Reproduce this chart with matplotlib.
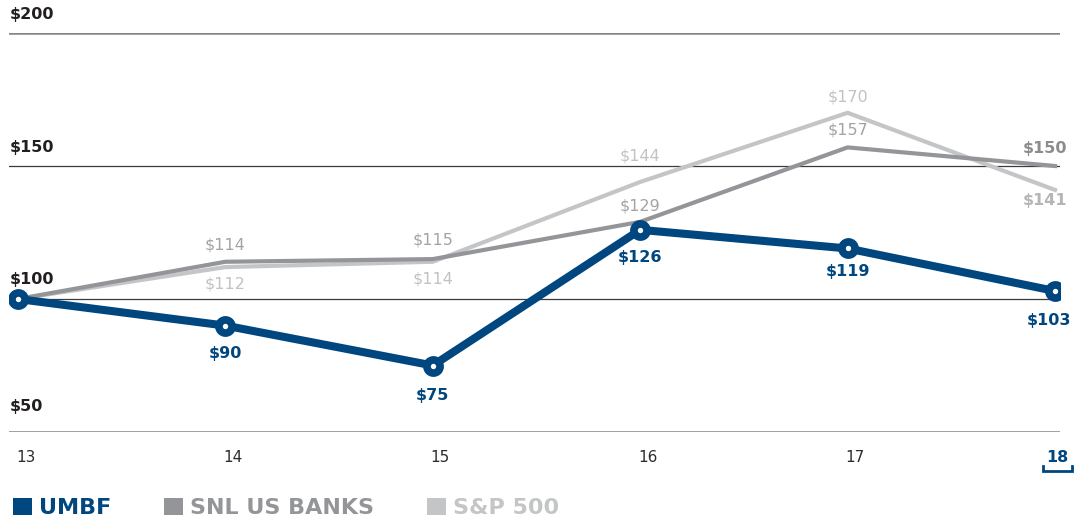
import matplotlib
matplotlib.use("Agg")
import matplotlib.pyplot as plt
from matplotlib.patches import Patch

# data
years = [13, 14, 15, 16, 17, 18]
year_labels = ["13", "14", "15", "16", "17", "18"]
umbf = [100, 90, 75, 126, 119, 103]
snl = [100, 114, 115, 129, 157, 150]
sp500 = [100, 112, 114, 144, 170, 141]
grid_values = [200, 150, 100, 50]
series_names = ["UMBF", "SNL US BANKS", "S&P 500"]

# label offsets in pixels (dx, dy), dy positive = down; None = no label
umbf_offsets = [None, (0, 28), (0, 30), (0, 28), (0, 23), (-6, 29)]
snl_offsets = [None, (0, -17), (0, -19), (0, -16), (0, -17), (-10, -18)]
sp_offsets = [None, (0, 17), (0, 17), (0, -26), (0, -16), (-10, 11)]
grid_label_gap = {200: 11, 150: 11, 100: 12, 50: 18}

blue = "#00467f"
gray = "#939598"
light = "#c4c5c7"
dark = "#231f20"

plt.rcParams["font.family"] = ["DejaVu Sans"]

fig = plt.figure(figsize=(10.75, 5.21), dpi=100)
ax = fig.add_axes([9 / 1075, 1 - 432 / 521, (1060 - 9) / 1075, (432 - 33) / 521])
ax.set_xlim(12.957, 18.024)
ax.set_ylim(50, 200)
ax.axis("off")

# grid lines and y labels
for v in grid_values:
    if v in (200, 50):
        ax.axhline(v, color="#858585", lw=1.8, zorder=1)
    else:
        ax.axhline(v, color="#3a3a3a", lw=0.9, zorder=1)
    ax.annotate("$%d" % v, xy=(12.957, v), xytext=(1, grid_label_gap[v]),
                textcoords="offset pixels", ha="left", va="bottom",
                fontsize=11.5, fontweight="bold", color=dark)

# lines
ax.plot(years, sp500, color=light, lw=3, zorder=2, solid_joinstyle="miter")
ax.plot(years, snl, color=gray, lw=3, zorder=3, solid_joinstyle="miter")
ax.plot(years, umbf, color=blue, lw=5.8, zorder=4, marker="o", markersize=9.5,
        markerfacecolor="white", markeredgecolor=blue, markeredgewidth=5.5)


def label_series(vals, offsets, color, last_color):
    for i, (x, v) in enumerate(zip(years, vals)):
        off = offsets[i]
        if off is None:
            continue
        last = i == len(vals) - 1
        ax.annotate("$%d" % v, xy=(x, v), xytext=(off[0], -off[1]),
                    textcoords="offset pixels", ha="center", va="center",
                    fontsize=11.5,
                    fontweight="bold" if last else "normal",
                    color=last_color if last else color, zorder=6)


label_series(snl, snl_offsets, "#a3a3a3", "#8c8c8c")
label_series(sp500, sp_offsets, "#c2c2c2", "#b5b5b5")
for i, (x, v) in enumerate(zip(years, umbf)):
    off = umbf_offsets[i]
    if off is None:
        continue
    ax.annotate("$%d" % v, xy=(x, v), xytext=(off[0], -off[1]),
                textcoords="offset pixels", ha="center", va="center",
                fontsize=11.5, fontweight="bold", color=blue, zorder=6)

# x labels
xt = ax.get_xaxis_transform()
for x, lab in zip(years, year_labels):
    if x == years[-1]:
        ax.text(x + 0.01, -0.065, lab, transform=xt, ha="center", va="center",
                fontsize=11.5, fontweight="bold", color=blue)
        ax.plot([x - 0.058, x - 0.058, x + 0.08, x + 0.08],
                [-0.086, -0.097, -0.097, -0.086], transform=xt, color=blue,
                lw=2, clip_on=False, solid_joinstyle="miter")
    else:
        ax.text(x - 0.01, -0.065, lab, transform=xt, ha="left", va="center",
                fontsize=11, color="#2b2b2b")

# legend
handles = [Patch(facecolor=c, edgecolor="none") for c in (blue, gray, light)]
fig.legend(handles, series_names, loc="lower left", bbox_to_anchor=(0.0, -0.02),
           ncol=3, frameon=False, prop=dict(weight="bold", size=16),
           labelcolor=[blue, gray, light], handlelength=0.85, handleheight=0.85,
           handletextpad=0.3, columnspacing=2.4, borderaxespad=0.3, borderpad=0.3)

fig.savefig("out.png", dpi=100)
